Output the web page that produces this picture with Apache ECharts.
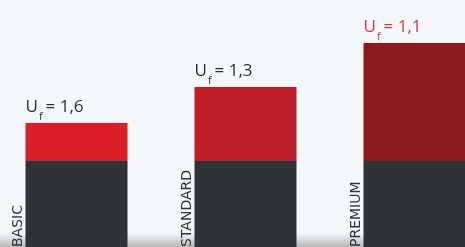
<!DOCTYPE html>
<html>
<head>
<meta charset="utf-8">
<script src="https://cdn.jsdelivr.net/npm/echarts@6/dist/echarts.min.js"></script>
<style>
  html, body { margin: 0; padding: 0; background: #f5f8fa; }
  #chart { width: 465px; height: 247px; }
</style>
</head>
<body>
<div id="chart"></div>
<script>
// 类别与数值（以像素高度读取）
const categories = ['BASIC', 'STANDARD', 'PREMIUM']
const baseValues = [86, 86, 86] // 深灰底部
const topValues = [38, 74, 118] // 红色顶部
const ufLabels = ['1,6', '1,3', '1,1']
const topColors = ['#d91f27', '#bd1e29', '#8c191b']
const ufColors = ['#2e2e2e', '#2e2e2e', '#d8392e']

const chart = echarts.init(document.getElementById('chart'))

const option = {
  backgroundColor: '#f5f8fa',
  animation: false,
  grid: { left: -8, top: 0, width: 507, height: 247, outerBoundsMode: 'none' },
  xAxis: {
    type: 'category',
    data: categories,
    show: false
  },
  yAxis: {
    type: 'value',
    min: 0,
    max: 247,
    show: false
  },
  graphic: [
    {
      type: 'rect',
      left: 0,
      bottom: 0,
      z: -1,
      shape: { width: 465, height: 14 },
      style: {
        fill: new echarts.graphic.LinearGradient(0, 0, 0, 1, [
          { offset: 0, color: 'rgba(60,60,60,0)' },
          { offset: 1, color: 'rgba(60,60,60,0.35)' }
        ])
      }
    }
  ],
  series: [
    {
      type: 'bar',
      stack: 'u',
      barWidth: 102,
      data: baseValues,
      itemStyle: { color: '#2f3336' },
      label: {
        show: true,
        position: ['0%', '100%'],
        rotate: 90,
        align: 'left',
        verticalAlign: 'bottom',
        formatter: p => p.name,
        color: '#333',
        fontFamily: 'DejaVu Sans',
        fontSize: 14
      }
    },
    {
      type: 'bar',
      stack: 'u',
      barWidth: 102,
      data: topValues.map((v, i) => ({
        value: v,
        itemStyle: { color: topColors[i] },
        label: { color: ufColors[i] }
      })),
      label: {
        show: true,
        position: ['0%', '0%'],
        align: 'left',
        verticalAlign: 'bottom',
        offset: [0, -1],
        fontFamily: 'Open Sans',
        formatter: p => '{u|U}{s|f}{n|= ' + ufLabels[p.dataIndex] + '}',
        rich: {
          u: { fontSize: 17, padding: [0, 0, 6, 0] },
          s: { fontSize: 11, verticalAlign: 'bottom', padding: [0, 3, 0, 1] },
          n: { fontSize: 17, padding: [0, 0, 6, 0] }
        }
      }
    }
  ]
}

chart.setOption(option)
</script>
</body>
</html>
